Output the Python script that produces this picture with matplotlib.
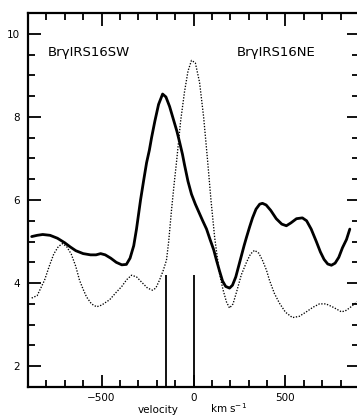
import numpy as np
import matplotlib
matplotlib.use("Agg")
import matplotlib.pyplot as plt
from matplotlib.ticker import MultipleLocator

# Br gamma profile IRS16SW (solid)
sw_vel = [-880, -850, -820, -780, -740, -700, -670, -640, -600, -560, -530, -505, -480,
          -450, -420, -390, -365, -345, -325, -310, -288, -270, -255, -240, -228, -210,
          -190, -168, -150, -130, -110, -90, -76, -60, -49, -30, -11, 10, 30, 50, 71,
          90, 110, 125, 141, 158, 175, 196, 212, 230, 245, 260, 275, 288, 305, 321,
          340, 360, 375, 395, 420, 450, 480, 505, 530, 560, 592, 615, 640, 668, 690,
          710, 730, 750, 770, 790, 810, 832, 850]
sw_flux = [5.12, 5.15, 5.17, 5.15, 5.08, 4.97, 4.87, 4.78, 4.71, 4.68, 4.68, 4.71, 4.68,
           4.6, 4.5, 4.44, 4.45, 4.6, 4.9, 5.3, 6.0, 6.5, 6.9, 7.2, 7.5, 7.9,
           8.3, 8.55, 8.48, 8.25, 7.95, 7.65, 7.4, 7.1, 6.85, 6.45, 6.14, 5.9, 5.7, 5.5, 5.3,
           5.05, 4.8, 4.55, 4.3, 4.05, 3.92, 3.88, 3.95, 4.15, 4.4, 4.65, 4.9, 5.1, 5.35, 5.57,
           5.78, 5.9, 5.92, 5.88, 5.75, 5.55, 5.42, 5.38, 5.45, 5.55, 5.57, 5.5, 5.3, 5.0, 4.75,
           4.57, 4.46, 4.43, 4.48, 4.62, 4.85, 5.05, 5.3]

# Br gamma profile IRS16NE (dotted)
ne_vel = [-880, -850, -810, -785, -760, -735, -712, -690, -665, -640, -620, -600, -582,
          -555, -527, -500, -456, -420, -390, -364, -337, -310, -277, -250, -223, -205,
          -185, -165, -147, -135, -120, -105, -92, -70, -49, -30, -11, 10, 33, 55, 76,
          95, 115, 141, 160, 179, 196, 215, 235, 260, 288, 310, 332, 355, 375, 397, 413,
          440, 467, 500, 538, 575, 614, 650, 685, 720, 755, 780, 804, 825, 848, 870, 890]
ne_flux = [3.64, 3.7, 4.07, 4.4, 4.7, 4.88, 4.95, 4.88, 4.7, 4.4, 4.07, 3.85, 3.67,
           3.5, 3.43, 3.47, 3.6, 3.78, 3.92, 4.08, 4.19, 4.15, 4.0, 3.88, 3.83, 3.88,
           4.07, 4.3, 4.55, 5.0, 5.74, 6.4, 6.93, 7.9, 8.6, 9.1, 9.36, 9.3, 8.83, 8.0, 6.98,
           6.0, 5.1, 4.24, 3.85, 3.55, 3.4, 3.5, 3.8, 4.2, 4.5, 4.7, 4.79, 4.72, 4.55, 4.31, 4.07,
           3.75, 3.52, 3.3, 3.17, 3.2, 3.31, 3.42, 3.5, 3.5, 3.43, 3.37, 3.31, 3.33, 3.4, 3.48, 3.55]

# velocity markers (vertical bars)
mark_vel = [-150, 0]
mark_top = 4.2

fig = plt.figure(figsize=(3.57, 4.16), dpi=100)
ax = fig.add_axes([28 / 357, 1 - 387 / 416, 331 / 357, 374 / 416])

ax.plot(sw_vel, sw_flux, color="black", lw=2.0, solid_capstyle="round", solid_joinstyle="round")
ax.plot(ne_vel, ne_flux, color="black", lw=0.95, linestyle=(0, (1, 1.2)))
ax.vlines(mark_vel, 1.5, mark_top, color="black", lw=1.3)

ax.set_xlim(-900, 900)
ax.set_ylim(1.5, 10.5)

ax.xaxis.set_major_locator(MultipleLocator(500))
ax.xaxis.set_minor_locator(MultipleLocator(100))
ax.yaxis.set_major_locator(MultipleLocator(2))
ax.yaxis.set_minor_locator(MultipleLocator(0.5))
ax.tick_params(which="both", direction="in", top=True, right=True, width=1.3, labelsize=7.5)
ax.tick_params(which="major", length=9)
ax.tick_params(which="minor", length=5)
ax.tick_params(axis="x", pad=4)
ax.tick_params(axis="y", pad=6)
for s in ax.spines.values():
    s.set_linewidth(1.6)

ax.text(-793, 9.55, "BrγIRS16SW", fontsize=9.5, va="center", ha="left")
ax.text(234, 9.55, "BrγIRS16NE", fontsize=9.5, va="center", ha="left")

fig.text(158 / 357, 1 - 410 / 416, "velocity", fontsize=7.5, ha="center", va="center")
fig.text(228 / 357, 1 - 408 / 416, "km s$^{-1}$", fontsize=7.5, ha="center", va="center")

fig.savefig("out.png", dpi=100)
